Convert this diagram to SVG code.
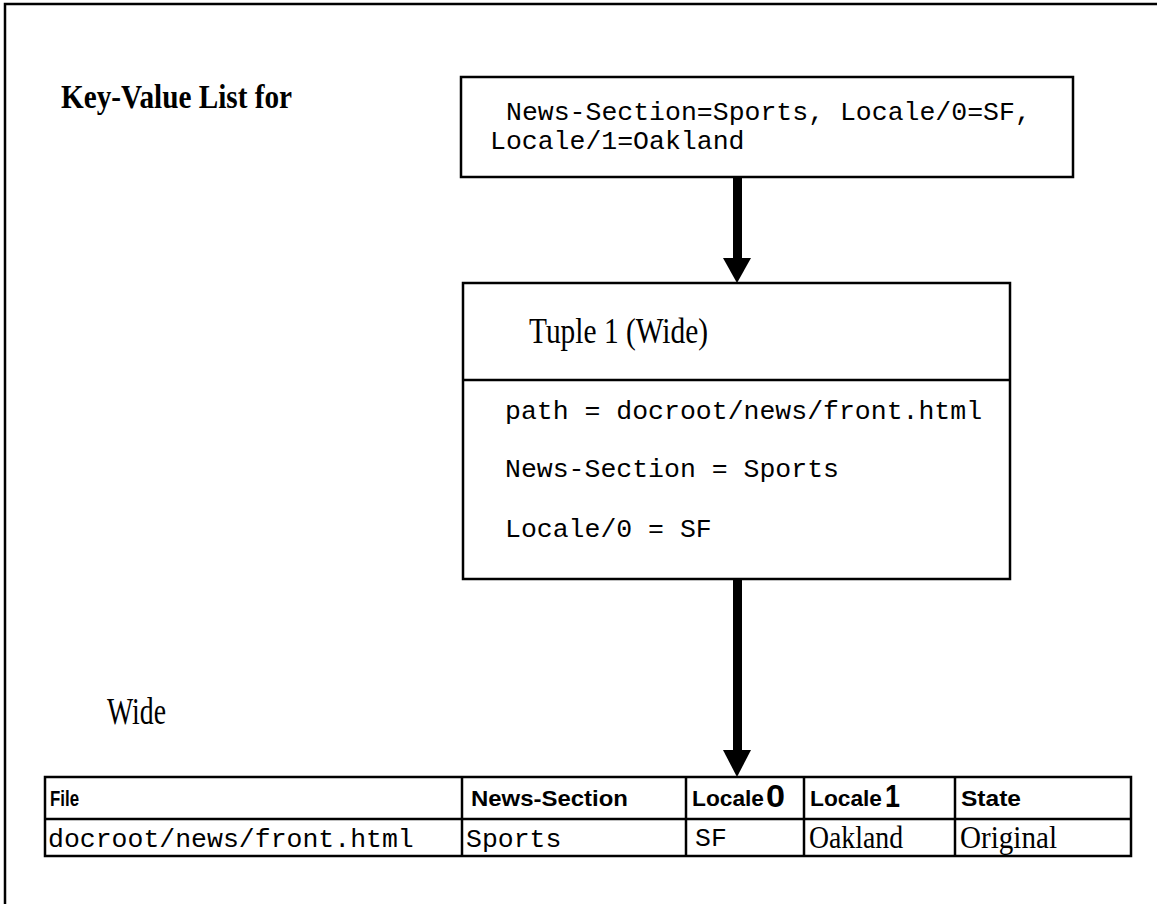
<svg xmlns="http://www.w3.org/2000/svg" width="1157" height="904" viewBox="0 0 1157 904">
  <defs>
    <style>
      .box{fill:#fff;stroke:#000;stroke-width:2.5}
      .rule{fill:none;stroke:#000;stroke-width:2.5}
      .mono{font-family:"Liberation Mono","Courier New",monospace;font-size:26.5px;fill:#000}
      .serif{font-family:"Liberation Serif","Times New Roman",serif;fill:#000}
      .hdr{font-family:"Liberation Sans",Arial,sans-serif;font-weight:bold;font-size:22px;fill:#000}
      .big{font-family:"Liberation Sans",Arial,sans-serif;font-weight:bold;font-size:31px;fill:#000}
    </style>
  </defs>

  <rect width="1157" height="904" fill="#fff"/>

  <!-- page frame (open to the right and bottom) -->
  <path d="M5,904 V4 H1157" class="rule" stroke-width="2"/>

  <!-- title -->
  <text class="serif" x="61" y="108" font-size="33" font-weight="bold" textLength="231" lengthAdjust="spacingAndGlyphs">Key-Value List for</text>

  <!-- key-value list node -->
  <g id="kvlist">
    <rect class="box" x="461" y="77" width="612" height="100"/>
    <text class="mono" x="506" y="120">News-Section=Sports, Locale/0=SF,</text>
    <text class="mono" x="490" y="149">Locale/1=Oakland</text>
  </g>

  <!-- tuple node -->
  <g id="tuple1">
    <rect class="box" x="463" y="283" width="547" height="296"/>
    <line class="rule" x1="463" y1="380" x2="1010" y2="380"/>
    <text class="serif" x="529" y="343" font-size="36" textLength="179" lengthAdjust="spacingAndGlyphs">Tuple 1 (Wide)</text>
    <text class="mono" x="505" y="419">path = docroot/news/front.html</text>
    <text class="mono" x="505" y="477">News-Section = Sports</text>
    <text class="mono" x="505" y="537">Locale/0 = SF</text>
  </g>

  <!-- label -->
  <g id="wide-label">
    <text class="serif" x="107" y="724" font-size="37" textLength="59" lengthAdjust="spacingAndGlyphs">Wide</text>
  </g>

  <!-- result table -->
  <g id="wide-table">
    <rect class="box" x="45" y="777" width="1086" height="79"/>
    <line class="rule" x1="45" y1="819" x2="1131" y2="819"/>
    <line class="rule" x1="462" y1="777" x2="462" y2="856"/>
    <line class="rule" x1="686" y1="777" x2="686" y2="856"/>
    <line class="rule" x1="804" y1="777" x2="804" y2="856"/>
    <line class="rule" x1="955" y1="777" x2="955" y2="856"/>

    <text class="hdr" x="50" y="806" textLength="29" lengthAdjust="spacingAndGlyphs">File</text>
    <text class="hdr" x="471" y="806" textLength="157" lengthAdjust="spacingAndGlyphs">News-Section</text>
    <text class="hdr" x="692" y="806" textLength="72" lengthAdjust="spacingAndGlyphs">Locale</text>
    <text class="big" x="766" y="807" textLength="19" lengthAdjust="spacingAndGlyphs">0</text>
    <text class="hdr" x="810" y="806" textLength="72" lengthAdjust="spacingAndGlyphs">Locale</text>
    <text class="big" x="885" y="807" textLength="15" lengthAdjust="spacingAndGlyphs">1</text>
    <text class="hdr" x="961" y="806" textLength="60" lengthAdjust="spacingAndGlyphs">State</text>

    <text class="mono" x="48" y="847">docroot/news/front.html</text>
    <text class="mono" x="466" y="847">Sports</text>
    <text class="mono" x="695" y="846" font-size="19">SF</text>
    <text class="serif" x="809" y="848" font-size="32" textLength="94" lengthAdjust="spacingAndGlyphs">Oakland</text>
    <text class="serif" x="960" y="848" font-size="32" textLength="97" lengthAdjust="spacingAndGlyphs">Original</text>
  </g>

  <!-- connectors -->
  <g id="connectors" fill="#000">
    <rect x="733" y="177" width="9" height="82"/>
    <polygon points="723,258 751,258 737,283"/>
    <rect x="733" y="579" width="9" height="172"/>
    <polygon points="723,750 751,750 737,777"/>
  </g>
</svg>
